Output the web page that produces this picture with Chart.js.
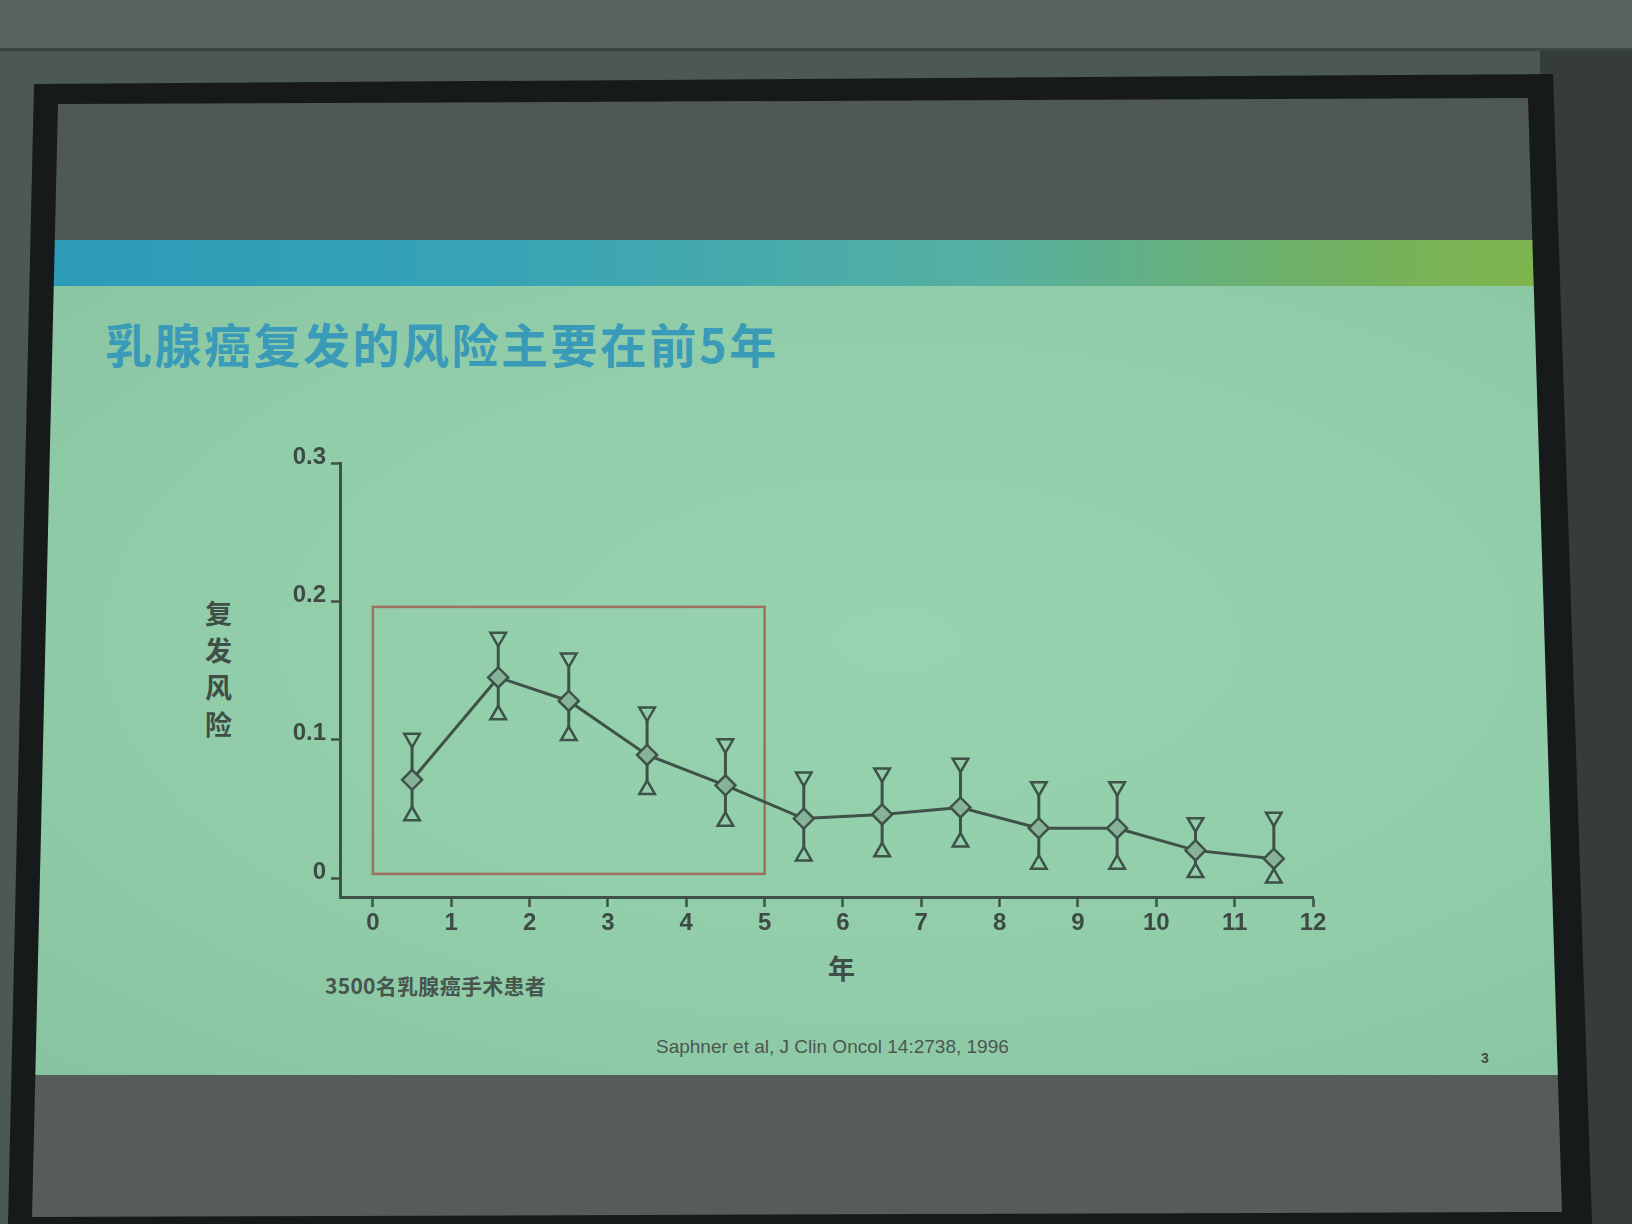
<!DOCTYPE html>
<html>
<head>
<meta charset="utf-8">
<script src="https://cdn.jsdelivr.net/npm/chart.js@4"></script>
<style>
  html, body { margin: 0; padding: 0; }
  body { width: 1632px; height: 1224px; position: relative; overflow: hidden; background: #4b5854; }
  .ceiling { position: absolute; left: 0; top: 0; width: 1632px; height: 48px; background: #56635e; border-bottom: 3px solid #3a4541; }
  .wall { position: absolute; left: 1540px; top: 51px; width: 92px; height: 1173px; background: #363c3a; }
  .frame { position: absolute; inset: 0; background: #161a1a; clip-path: polygon(34px 84px, 1553px 74px, 1592px 1224px, 8px 1224px); }
  .screen { position: absolute; inset: 0; clip-path: polygon(58px 104px, 1528px 98px, 1562px 1212px, 32px 1217px); }
  .upper { position: absolute; left: 0; top: 0; width: 100%; height: 242px; background: #4e5956; }
  .band { position: absolute; left: 0; top: 240px; width: 100%; height: 46px;
    background: linear-gradient(90deg, #2c9ab8 0%, #36a3b6 30%, #55b0a2 60%, #76b25a 85%, #84b646 100%); }
  .slide { position: absolute; left: 0; top: 286px; width: 100%; height: 789px;
    background: radial-gradient(ellipse at 55% 45%, #98d3b0 0%, #92cdaa 55%, #88c3a0 100%); }
  .lower { position: absolute; left: 0; top: 1075px; width: 100%; height: 160px; background: #555c59; }
  .txt { position: absolute; font-weight: bold; white-space: nowrap; line-height: 1; }
  #title { left: 105px; top: 319px; font-size: 47px; color: #3a9bb8; letter-spacing: 2.5px;
    font-family: "Noto Sans CJK SC", "Liberation Sans", sans-serif; }
  #ylab { left: 205px; top: 594px; font-size: 27px; line-height: 37px; color: #3f4f47; text-align: center;
    font-family: "Noto Sans CJK SC", sans-serif; }
  #xlab { left: 828px; top: 954px; font-size: 27px; color: #3f4f47; font-family: "Noto Sans CJK SC", sans-serif; }
  #note { left: 325px; top: 975px; font-size: 21px; color: #46554e; letter-spacing: 0.3px;
    font-family: "Noto Sans CJK SC", "Liberation Sans", sans-serif; }
  #cite { left: 656px; top: 1037px; font-size: 19px; font-weight: normal; color: #4a5751;
    font-family: "Liberation Sans", sans-serif; }
  #page { left: 1481px; top: 1051px; font-size: 14px; color: #3f4f47; font-family: "Liberation Sans", sans-serif; }
  #chart { position: absolute; left: 0; top: 0; }
</style>
</head>
<body>
<div class="ceiling"></div>
<div class="wall"></div>
<div class="frame"></div>
<div class="screen">
  <div class="upper"></div>
  <div class="band"></div>
  <div class="slide"></div>
  <div class="lower"></div>
</div>
<div class="txt" id="title">乳腺癌复发的风险主要在前5年</div>
<div class="txt" id="ylab">复<br>发<br>风<br>险</div>
<div class="txt" id="xlab">年</div>
<div class="txt" id="note">3500名乳腺癌手术患者</div>
<div class="txt" id="cite">Saphner et al, J Clin Oncol 14:2738, 1996</div>
<div class="txt" id="page">3</div>
<canvas id="chart" width="1632" height="1224"></canvas>
<script>
// years after surgery (midpoints of each yearly interval)
const years = [0.5, 1.6, 2.5, 3.5, 4.5, 5.5, 6.5, 7.5, 8.5, 9.5, 10.5, 11.5];
// annual recurrence hazard and its confidence limits
const risk      = [0.071, 0.145, 0.128, 0.089, 0.067, 0.043, 0.046, 0.051, 0.036, 0.036, 0.020, 0.014];
const riskUpper = [0.101, 0.174, 0.159, 0.120, 0.097, 0.073, 0.076, 0.083, 0.066, 0.066, 0.040, 0.044];
const riskLower = [0.045, 0.118, 0.103, 0.064, 0.041, 0.016, 0.019, 0.026, 0.010, 0.010, 0.004, 0.000];

const xTickValues = [0, 1, 2, 3, 4, 5, 6, 7, 8, 9, 10, 11, 12];
const yTickValues = [0, 0.1, 0.2, 0.3];
const yTickLabels = ['0', '0.1', '0.2', '0.3'];

// the boxed "first 5 years" region
const highlightYears = [0, 5];
const highlightRisk = [0.003, 0.196];

const ink = '#3e5248';
const slideGreen = '#93ceab';

const errorBars = {
  id: 'errorBars',
  beforeDatasetsDraw(chart) {
    const { ctx, scales: { x, y } } = chart;
    ctx.save();
    ctx.strokeStyle = '#a0705c';
    ctx.lineWidth = 2.5;
    const bx0 = x.getPixelForValue(highlightYears[0]);
    const bx1 = x.getPixelForValue(highlightYears[1]);
    const by0 = y.getPixelForValue(highlightRisk[1]);
    const by1 = y.getPixelForValue(highlightRisk[0]);
    ctx.strokeRect(bx0, by0, bx1 - bx0, by1 - by0);

    ctx.strokeStyle = ink;
    ctx.lineWidth = 3;
    years.forEach((yr, i) => {
      const px = x.getPixelForValue(yr);
      ctx.beginPath();
      ctx.moveTo(px, y.getPixelForValue(riskLower[i]));
      ctx.lineTo(px, y.getPixelForValue(riskUpper[i]));
      ctx.stroke();
    });
    ctx.restore();
  }
};

const pts = arr => years.map((yr, i) => ({ x: yr, y: arr[i] }));
const tickFont = { family: 'Liberation Sans, Arial, sans-serif', size: 24, weight: 'bold' };

new Chart(document.getElementById('chart').getContext('2d'), {
  type: 'line',
  data: {
    datasets: [
      {
        label: 'upper',
        data: pts(riskUpper),
        showLine: false,
        pointStyle: 'triangle',
        rotation: 180,
        pointRadius: 9,
        pointBorderWidth: 2.5,
        pointBorderColor: ink,
        pointBackgroundColor: slideGreen
      },
      {
        label: 'lower',
        data: pts(riskLower),
        showLine: false,
        pointStyle: 'triangle',
        pointRadius: 9,
        pointBorderWidth: 2.5,
        pointBorderColor: ink,
        pointBackgroundColor: slideGreen
      },
      {
        label: '复发风险',
        data: pts(risk),
        borderColor: ink,
        borderWidth: 3,
        tension: 0,
        pointStyle: 'rectRot',
        pointRadius: 10,
        pointBorderWidth: 2.5,
        pointBorderColor: ink,
        pointBackgroundColor: '#86b398'
      }
    ]
  },
  options: {
    responsive: false,
    animation: false,
    clip: false,
    layout: { padding: { left: 260, right: 319, top: 463, bottom: 277 } },
    plugins: {
      legend: { display: false },
      tooltip: { enabled: false }
    },
    scales: {
      x: {
        type: 'linear',
        min: -0.42,
        max: 12,
        afterBuildTicks: s => { s.ticks = xTickValues.map(v => ({ value: v })); },
        afterFit: s => { s.height = 50; },
        border: { color: ink, width: 3 },
        grid: { drawOnChartArea: false, color: ink, tickLength: 10, tickWidth: 2.5 },
        ticks: { color: '#3d4b44', font: tickFont, padding: 2, maxRotation: 0 }
      },
      y: {
        min: -0.0137,
        max: 0.3,
        afterBuildTicks: s => { s.ticks = yTickValues.map(v => ({ value: v })); },
        afterFit: s => { s.width = 80; },
        border: { color: ink, width: 3 },
        grid: { drawOnChartArea: false, color: ink, tickLength: 9, tickWidth: 2.5 },
        ticks: {
          color: '#3d4b44',
          font: tickFont,
          padding: 5,
          labelOffset: -6,
          callback: (v, i) => yTickLabels[yTickValues.indexOf(Math.round(v * 10) / 10)]
        }
      }
    }
  },
  plugins: [errorBars]
});
</script>
</body>
</html>
